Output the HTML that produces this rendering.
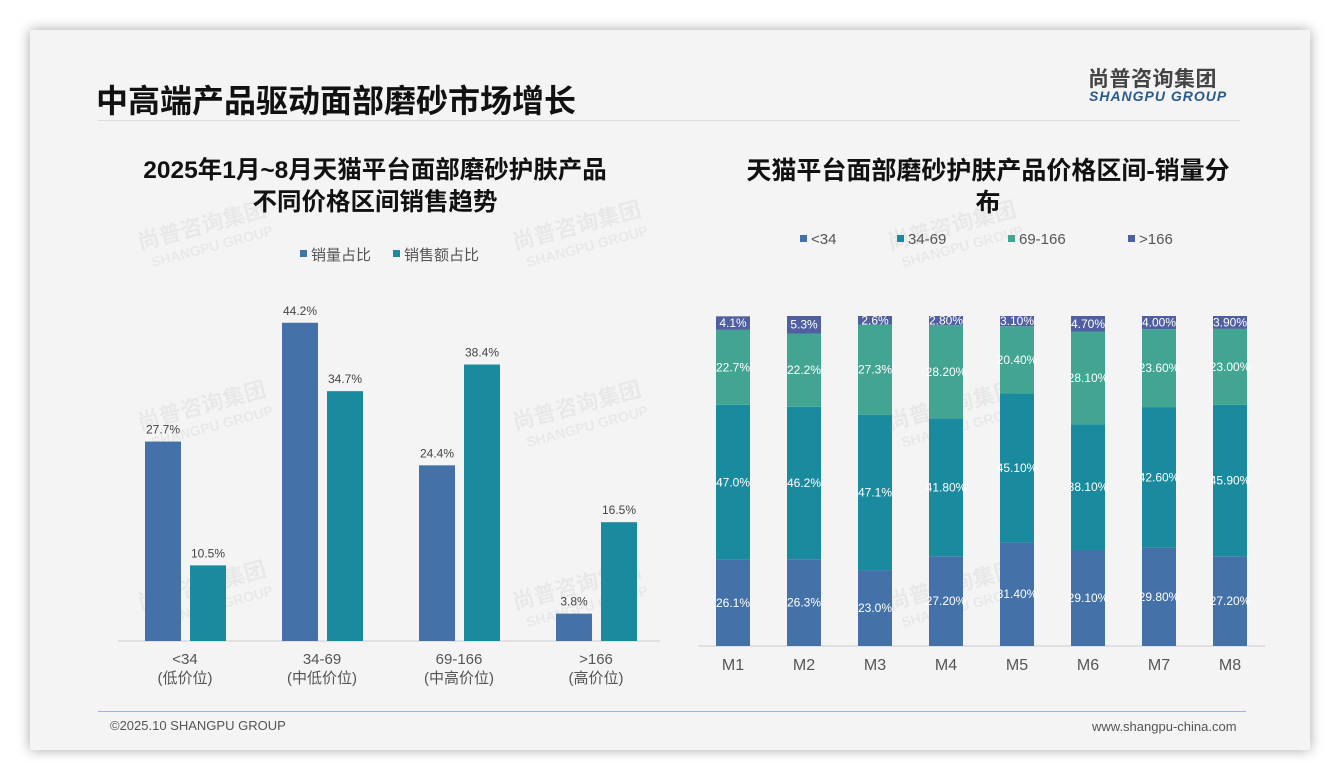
<!DOCTYPE html>
<html><head><meta charset="utf-8"><style>
body{margin:0;width:1340px;height:780px;background:#fff;font-family:"Liberation Sans","Noto Sans CJK SC",sans-serif;overflow:hidden;position:relative}
#card{position:absolute;left:30px;top:30px;width:1280px;height:720px;background:#f4f4f4;box-shadow:0 0 12px rgba(0,0,0,0.35)}
.t{position:absolute;white-space:nowrap}
</style></head><body>
<div id="card"></div>
<div class="t" style="left:96px;top:76px;font-size:32px;font-weight:bold;color:#111">中高端产品驱动面部磨砂市场增长</div>
<div class="t" style="left:1088px;top:63px;font-size:21px;font-weight:bold;color:#444;letter-spacing:0.5px">尚普咨询集团</div>
<div class="t" style="left:1089px;top:88px;font-size:14px;font-weight:bold;font-style:italic;color:#2a5a8a;letter-spacing:1px">SHANGPU GROUP</div>
<div style="position:absolute;left:98px;top:120px;width:1142px;height:1px;background:#ddd"></div>
<div class="t" style="left:70px;width:610px;top:155px;text-align:center;font-size:24.5px;font-weight:bold;line-height:32px;color:#111">2025年1月~8月天猫平台面部磨砂护肤产品<br>不同价格区间销售趋势</div>
<div class="t" style="left:727px;width:522px;top:155px;text-align:center;font-size:25px;font-weight:bold;line-height:32px;color:#111">天猫平台面部磨砂护肤产品价格区间-销量分<br>布</div>
<div style="position:absolute;left:98px;top:711px;width:1148px;height:1px;background:#9bb8d8"></div>
<div class="t" style="left:110px;top:718px;font-size:13px;color:#555">©2025.10 SHANGPU GROUP</div>
<div class="t" style="left:1092px;top:719px;font-size:13px;color:#555">www.shangpu-china.com</div>
<svg id="chart" width="1340" height="780" style="position:absolute;left:0;top:0" font-family="Liberation Sans, Noto Sans CJK SC, sans-serif"></svg>
<script>
const cats1=["<34","34-69","69-166",">166"];
const sub1=["(低价位)","(中低价位)","(中高价位)","(高价位)"];
const volShare=[27.7,44.2,24.4,3.8];
const salesShare=[10.5,34.7,38.4,16.5];
const months=["M1","M2","M3","M4","M5","M6","M7","M8"];
const s1=[26.1,26.3,23.0,27.2,31.4,29.1,29.8,27.2];
const s2=[47.0,46.2,47.1,41.8,45.1,38.1,42.6,45.9];
const s3=[22.7,22.2,27.3,28.2,20.4,28.1,23.6,23.0];
const s4=[4.1,5.3,2.6,2.8,3.1,4.7,4.0,3.9];
const lab1=["26.1%","26.3%","23.0%","27.20%","31.40%","29.10%","29.80%","27.20%"];
const lab2=["47.0%","46.2%","47.1%","41.80%","45.10%","38.10%","42.60%","45.90%"];
const lab3=["22.7%","22.2%","27.3%","28.20%","20.40%","28.10%","23.60%","23.00%"];
const lab4=["4.1%","5.3%","2.6%","2.80%","3.10%","4.70%","4.00%","3.90%"];
const svg=document.getElementById('chart');
const NS="http://www.w3.org/2000/svg";
function mk(tag,attrs,parent){const e=document.createElementNS(NS,tag);for(const k in attrs)e.setAttribute(k,attrs[k]);(parent||svg).appendChild(e);return e;}
function txt(x,y,s,size,fill,anchor,name){const e=mk('text',{x:x,y:y,'font-size':size,fill:fill,'text-anchor':anchor||'middle'});e.textContent=s;


return e;}
[[140,250],[515,250],[140,430],[515,430],[890,250],[890,430],[140,610],[515,610],[890,610]].forEach(p=>{
const g=mk('g',{transform:`translate(${p[0]},${p[1]}) rotate(-15)`,opacity:0.045});


txt(0,0,"尚普咨询集团",22,"#000","start","watermark-cn").setAttribute('font-weight','bold');g.appendChild(svg.lastChild);
txt(8,20,"SHANGPU GROUP",14,"#000","start","watermark-en").setAttribute('font-weight','bold');g.appendChild(svg.lastChild);});
const C1="#4472a8",C2="#1a8a9e";
const base1=641,k1=7.2,step1=137,x0=183;
const yL=v=>base1-v*k1;
mk('rect',{x:300,y:250,width:7,height:7,fill:C1});
txt(311,260,"销量占比",15,"#555","start","legend-volume-share");
mk('rect',{x:393,y:250,width:7,height:7,fill:C2});
txt(404,260,"销售额占比",15,"#555","start","legend-sales-share");
const ax1=mk('line',{x1:118,y1:base1,x2:660,y2:base1,stroke:"#ccc"});


cats1.forEach((c,i)=>{
const cx=x0+i*step1-2;
const b1=mk('rect',{x:cx-36,y:yL(volShare[i]),width:36,height:volShare[i]*k1,fill:C1});


const b2=mk('rect',{x:cx+9,y:yL(salesShare[i]),width:36,height:salesShare[i]*k1,fill:C2});


txt(cx-18,yL(volShare[i])-8,volShare[i].toFixed(1)+"%",12,"#444","middle","label-volume-"+i);
txt(cx+27,yL(salesShare[i])-8,salesShare[i].toFixed(1)+"%",12,"#444","middle","label-sales-"+i);
txt(cx+4,664,c,15,"#555","middle","x-label-"+i);
txt(cx+4,683,sub1[i],15,"#555","middle","x-sublabel-"+i);
});
const cols=["#4472a8","#1a8a9e","#42a592","#4f5fa0"];
const names=["<34","34-69","69-166",">166"];
const lx=[800,897,1008,1128];
names.forEach((n,i)=>{mk('rect',{x:lx[i],y:235,width:7,height:7,fill:cols[i]});txt(lx[i]+11,244,n,15,"#555","start","legend-"+i);});
const base2=646,k2=3.3,xm0=733,stepm=71;
const yR=v=>base2-v*k2;
const ax2=mk('line',{x1:698,y1:base2,x2:1265,y2:base2,stroke:"#ccc"});


const series=[s1,s2,s3,s4],labs=[lab1,lab2,lab3,lab4];
months.forEach((m,i)=>{
const cx=xm0+i*stepm;let acc=0;
series.forEach((s,j)=>{
const y=yR(acc+s[i]),h=s[i]*k2;
const r=mk('rect',{x:cx-17,y:y,width:34,height:h,fill:cols[j]});


txt(cx,y+h/2+4,labs[j][i],12,"#fff","middle","seg-label-"+m+"-"+j);
acc+=s[i];});
txt(cx,670,m,16,"#555","middle","month-label-"+m);
});
</script>
</body></html>
